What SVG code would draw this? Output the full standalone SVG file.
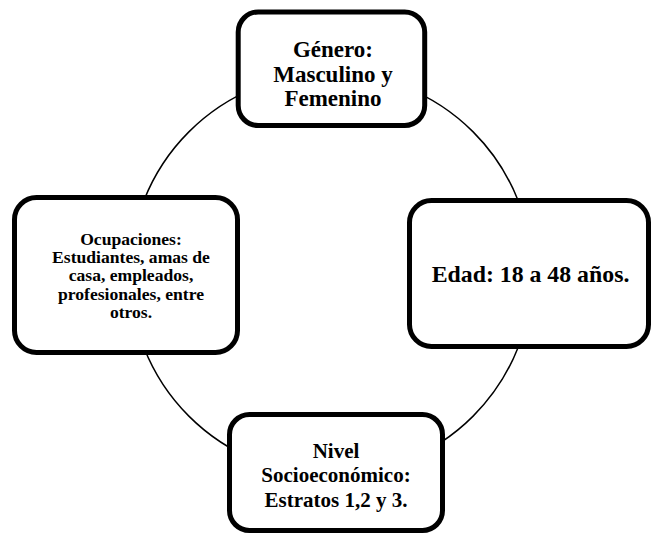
<svg xmlns="http://www.w3.org/2000/svg" width="651" height="535" viewBox="0 0 651 535">
<style>
.box{fill:#fff;stroke:#000;stroke-width:5}
.t{font-family:"Liberation Serif","Times New Roman",serif;font-weight:bold;fill:#000;text-anchor:middle}
</style>
<rect width="651" height="535" fill="#fff"/>
<g id="connectors">
<circle cx="331" cy="274" r="201" fill="none" stroke="#000" stroke-width="1.5"/>
</g>
<g id="genero">
<rect class="box" x="238.2" y="12" width="186.5" height="113.5" rx="20"/>
<text class="t" font-size="23" x="333" y="57">Género:</text>
<text class="t" font-size="23" x="333" y="81.5">Masculino y</text>
<text class="t" font-size="23" x="333" y="106">Femenino</text>
</g>
<g id="ocupaciones">
<rect class="box" x="14.5" y="197.5" width="223" height="155" rx="22"/>
<text class="t" font-size="17.6" x="131" y="245">Ocupaciones:</text>
<text class="t" font-size="17.6" x="131" y="263.2">Estudiantes, amas de</text>
<text class="t" font-size="17.6" x="131" y="281.4">casa, empleados,</text>
<text class="t" font-size="17.6" x="131" y="299.6">profesionales, entre</text>
<text class="t" font-size="17.6" x="131" y="317.8">otros.</text>
</g>
<g id="edad">
<rect class="box" x="409.5" y="200.5" width="239" height="146" rx="22"/>
<text class="t" font-size="23.8" x="530.5" y="281.7">Edad: 18 a 48 años.</text>
</g>
<g id="nivel">
<rect class="box" x="229.5" y="414.5" width="213" height="116" rx="20"/>
<text class="t" font-size="21" x="336" y="458.3">Nivel</text>
<text class="t" font-size="21" x="336" y="482.3">Socioeconómico:</text>
<text class="t" font-size="21" x="336" y="506.5">Estratos 1,2 y 3.</text>
</g>
</svg>
